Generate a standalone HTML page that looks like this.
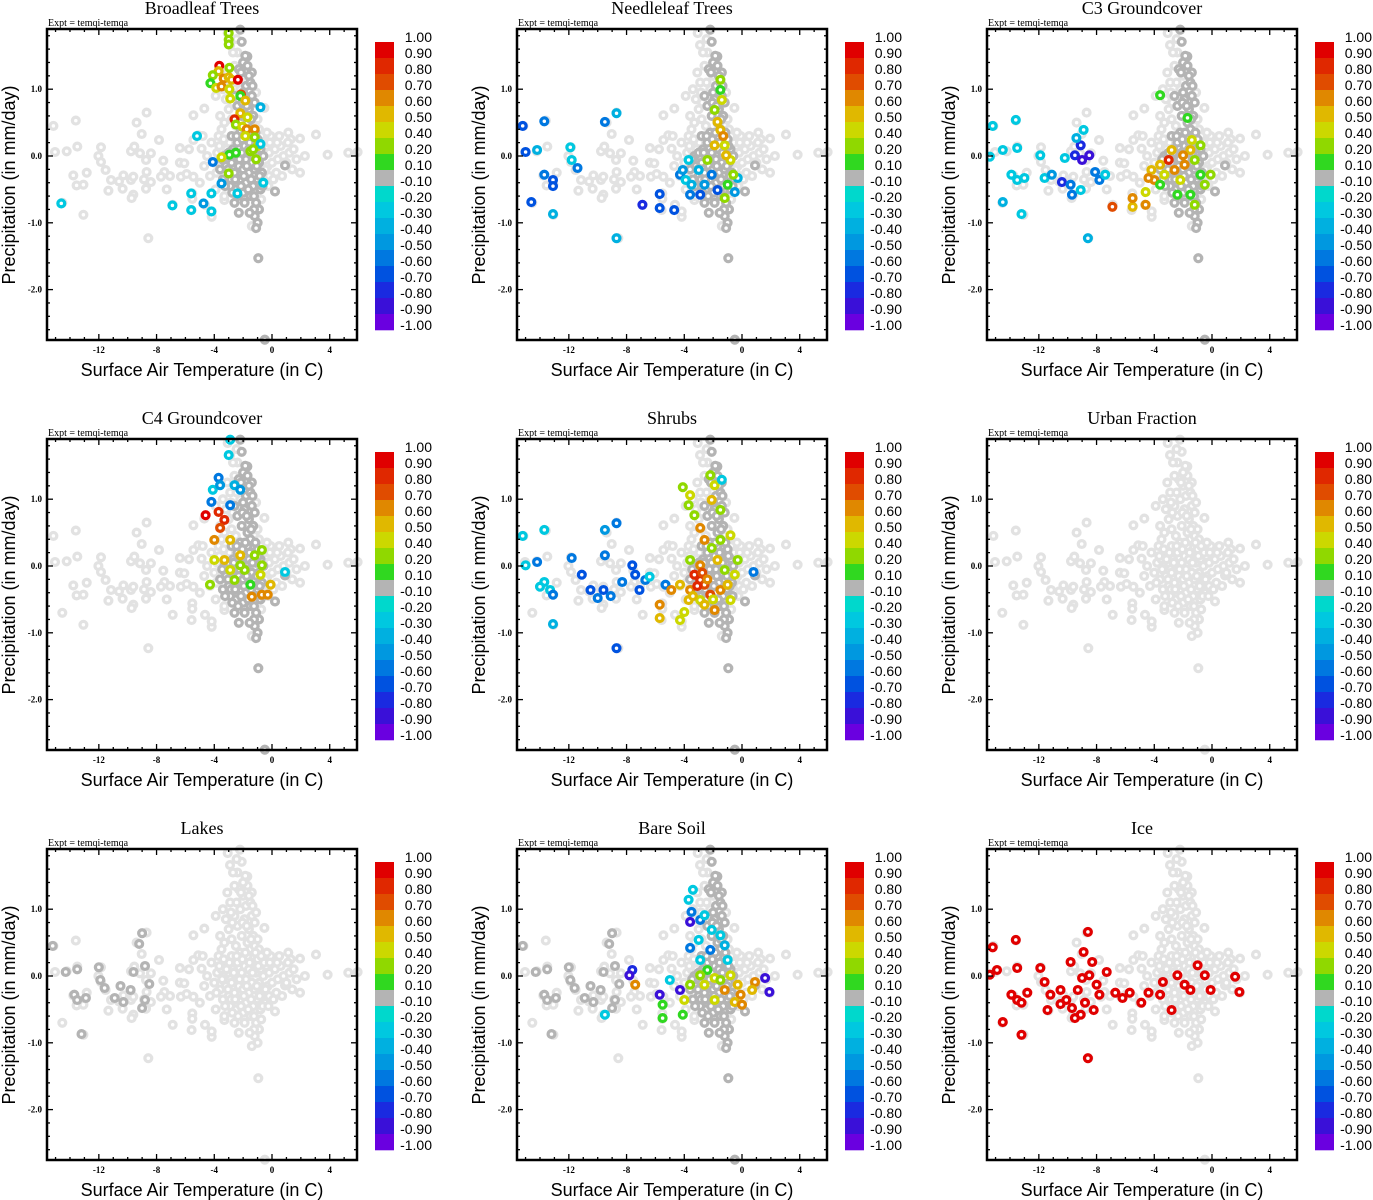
<!DOCTYPE html>
<html><head><meta charset="utf-8">
<style>
html,body{margin:0;padding:0;background:#fff;}
svg{display:block;}
.ttl{font-family:"Liberation Serif",serif;font-size:18px;}
.expt{font-family:"Liberation Serif",serif;font-size:10px;}
.axl{font-family:"Liberation Sans",sans-serif;font-size:18px;}
.tk{font-family:"Liberation Serif",serif;font-size:9px;font-weight:bold;}
.cbl{font-family:"Liberation Sans",sans-serif;font-size:14px;}
</style></head>
<body>
<svg id="fig" width="1373" height="1200" viewBox="0 0 1373 1200" xmlns="http://www.w3.org/2000/svg"></svg>
<script>
// ---- shared data ----
const panelTitles = ["Broadleaf Trees","Needleleaf Trees","C3 Groundcover","C4 Groundcover","Shrubs","Urban Fraction","Lakes","Bare Soil","Ice"];
const xTicks = [-12,-8,-4,0,4];
const yTicks = [1.0,0.0,-1.0,-2.0];
const yTickLabels = ["1.0","0.0","-1.0","-2.0"];
const cbBounds = [1.0,0.9,0.8,0.7,0.6,0.5,0.4,0.2,0.1,-0.1,-0.2,-0.3,-0.4,-0.5,-0.6,-0.7,-0.8,-0.9,-1.0];
const cbLabels = ["1.00","0.90","0.80","0.70","0.60","0.50","0.40","0.20","0.10","-0.10","-0.20","-0.30","-0.40","-0.50","-0.60","-0.70","-0.80","-0.90","-1.00"];
const cbColors = ["#e00000","#e02800","#e04c00","#e08800","#e0b800","#ccd800","#90d800","#30d820","#b4b4b4","#00d8cc","#00c8e0","#00b0e0","#0098e0","#0078e0","#0052e0","#1a2ae0","#3a10d8","#6a00e0"];

// base cloud (x: temperature, y: precipitation)
const baseCloud = [[-15.15,0.45],[-13.6,0.53],[-15.04,0.06],[-14.23,0.07],[-13.49,0.14],[-13.77,-0.29],[-13.54,-0.44],[-13.07,-0.43],[-12.84,-0.25],[-14.53,-0.7],[-13.07,-0.88],[-11.85,0.13],[-12.03,0.0],[-11.85,-0.09],[-11.53,-0.21],[-11.34,-0.52],[-11.16,-0.36],[-10.6,-0.38],[-10.3,-0.29],[-10.35,-0.49],[-9.77,-0.36],[-9.61,-0.31],[-9.15,0.04],[-9.38,0.5],[-9.03,0.33],[-8.69,0.65],[-9.77,0.07],[-9.54,0.14],[-8.39,0.04],[-8.73,-0.06],[-8.69,-0.24],[-8.87,-0.35],[-8.39,-0.39],[-8.73,-0.49],[-9.61,-0.58],[-9.73,-0.63],[-7.83,0.24],[-7.53,-0.07],[-7.46,-0.24],[-7.69,-0.31],[-7.07,-0.3],[-7.3,-0.5],[-6.88,-0.73],[-8.57,-1.23],[-6.38,0.12],[-5.75,0.1],[-5.45,0.24],[-5.11,0.31],[-5.45,0.61],[-4.69,0.71],[-4.88,0.11],[-6.38,-0.1],[-6.08,-0.11],[-6.31,-0.31],[-5.92,-0.27],[-5.45,-0.31],[-5.52,-0.56],[-5.52,-0.64],[-5.57,-0.81],[-4.18,-0.91],[-4.18,-0.83],[-4.64,-0.73],[-3.3,-0.66],[-0.95,-1.53],[3.85,0.02],[3.05,0.32],[5.29,0.05],[5.93,0.06],[1.94,-0.25],[1.13,0.35],[1.94,0.26],[2.28,0.0],[0.21,-0.53],[0.9,-0.14],[-0.53,0.72],[-1.71,1.49],[-2.22,1.89],[-2.91,1.66],[-3.07,1.84],[-2.1,1.71],[-0.5,-2.75],
[-4.0,-0.1],[-3.8,0.05],[-3.6,-0.2],[-3.5,0.1],[-3.4,-0.35],[-3.3,0.0],[-3.2,-0.15],[-3.1,0.2],[-3.0,-0.3],[-3.0,0.05],[-2.9,-0.45],[-2.8,-0.1],[-2.8,0.3],[-2.7,0.1],[-2.6,-0.25],[-2.5,0.0],[-2.5,-0.5],[-2.4,0.2],[-2.3,-0.15],[-2.2,-0.35],[-2.2,0.35],[-2.1,0.05],[-2.0,-0.2],[-2.0,-0.55],[-1.9,0.15],[-1.8,-0.05],[-1.8,-0.4],[-1.7,0.3],[-1.6,-0.25],[-1.6,0.1],[-1.5,-0.6],[-1.5,0.4],[-1.4,-0.1],[-1.3,0.2],[-1.3,-0.45],[-1.2,-0.2],[-1.1,0.05],[-1.1,-0.7],[-1.0,-0.35],[-1.0,0.25],[-0.9,-0.1],[-0.8,-0.5],[-0.8,0.1],[-0.7,-0.25],[-0.6,0.0],[-0.5,-0.4],[-0.4,0.15],[-0.3,-0.15],[-0.2,0.05],[0.0,-0.1],[0.2,0.1],[0.4,-0.05],[0.6,0.15],[0.8,0.0],[1.0,-0.1],[1.2,0.05],[1.5,0.1],[-4.3,-0.3],[-4.5,0.0],[-4.2,0.2],[-3.9,-0.5],[-3.7,0.3],[-3.3,-0.6],[-2.6,-0.7],[-2.3,-0.85],[-1.2,-0.9],[-0.9,-0.8],[-1.0,-1.0],[-1.4,-1.05],[-0.2,-0.3],[0.3,-0.25],[0.5,0.3],[-0.1,0.3],[1.3,0.25],[1.7,-0.05],[-4.7,-0.15],[-5.0,-0.4],[-4.8,0.3],
[-3.3,0.5],[-3.0,0.7],[-2.8,0.55],[-2.6,0.9],[-2.5,0.45],[-2.4,0.75],[-2.2,1.0],[-2.1,0.6],[-2.0,1.2],[-1.9,0.85],[-1.8,1.05],[-1.7,0.5],[-1.6,0.7],[-1.5,1.1],[-1.4,0.9],[-1.3,0.6],[-1.2,0.8],[-2.3,1.3],[-2.6,1.35],[-3.1,1.25],[-3.4,1.0],[-2.9,1.1],[-1.7,1.35],[-1.4,1.25],[-1.2,0.45],[-2.0,1.4],[-2.4,1.55],[-3.6,0.6],[-3.9,0.9],[-1.0,0.55],[-0.9,0.4],
[-3.85,-0.25],[-3.65,0.15],[-3.45,-0.05],[-3.25,-0.45],[-3.15,0.1],[-3.05,-0.2],[-2.95,0.2],[-2.85,-0.35],[-2.75,-0.55],[-2.65,0.05],[-2.55,-0.35],[-2.45,0.3],[-2.35,-0.6],[-2.25,-0.05],[-2.15,-0.45],[-2.05,0.25],[-1.95,-0.3],[-1.85,0.35],[-1.75,-0.15],[-1.65,-0.5],[-1.55,0.2],[-1.45,-0.35],[-1.35,0.05],[-1.25,-0.6],[-1.15,0.35],[-1.05,-0.15],[-0.95,0.15],[-0.85,-0.3],[-0.75,0.3],[-0.65,-0.45],[-0.55,0.2],[-0.45,-0.2],[-0.35,0.35],[-0.25,-0.45],[-0.15,0.2],[0.1,-0.35],[0.35,0.2],[0.7,-0.3],[1.1,0.2],[1.4,-0.2],[-3.5,0.4],[-3.2,0.85],[-2.75,0.8],[-2.45,1.1],[-2.15,1.25],[-1.85,1.5],[-1.6,1.2],[-1.35,1.05],[-1.1,0.95],[-2.7,1.55],[-2.45,1.75],[-2.05,0.8],[-1.75,0.75],[-1.45,0.55],[-2.85,0.95],[-3.35,0.25],[-1.25,-0.8],[-1.55,-0.85],[-0.75,-0.65],[-1.9,-0.7]];

// darker grey core (|r| < 0.1)
const coreGrey = [[-3.6,-0.2],[-3.4,-0.35],[-3.3,0.0],[-3.2,-0.15],[-3.0,-0.3],[-3.0,0.05],[-2.9,-0.45],[-2.8,-0.1],[-2.8,0.3],[-2.7,0.1],[-2.6,-0.25],[-2.5,0.0],[-2.5,-0.5],[-2.4,0.2],[-2.3,-0.15],[-2.2,-0.35],[-2.2,0.35],[-2.1,0.05],[-2.0,-0.2],[-2.0,-0.55],[-1.9,0.15],[-1.8,-0.05],[-1.8,-0.4],[-1.7,0.3],[-1.6,-0.25],[-1.6,0.1],[-1.5,-0.6],[-1.5,0.4],[-1.4,-0.1],[-1.3,0.2],[-1.3,-0.45],[-1.2,-0.2],[-1.1,0.05],[-1.1,-0.7],[-1.0,-0.35],[-1.0,0.25],[-0.9,-0.1],[-0.8,-0.5],[-0.8,0.1],[-0.7,-0.25],[-0.6,0.0],[-1.2,-0.9],[-0.9,-0.8],[-1.0,-1.0],[-1.1,-1.08],[-0.95,-1.53],[-2.6,-0.7],[-2.3,-0.85],[-2.1,0.6],[-2.0,0.95],[-1.9,0.85],[-1.8,1.05],[-1.7,0.5],[-1.6,0.7],[-1.5,1.1],[-1.4,0.9],[-1.3,0.6],[-1.2,0.8],[-2.3,1.3],[-2.0,1.4],[-1.7,1.35],[-1.4,1.25],[-2.4,0.75],[-2.6,0.9],[-2.2,1.89],[-2.1,1.71],[-1.71,1.49],[-0.5,-2.75],[0.21,-0.53],[0.9,-0.14],
[-3.45,-0.05],[-3.25,-0.45],[-3.05,-0.2],[-2.85,-0.35],[-2.75,-0.55],[-2.65,0.05],[-2.55,-0.35],[-2.45,0.3],[-2.35,-0.6],[-2.25,-0.05],[-2.15,-0.45],[-2.05,0.25],[-1.95,-0.3],[-1.85,0.35],[-1.75,-0.15],[-1.65,-0.5],[-1.55,0.2],[-1.45,-0.35],[-1.35,0.05],[-1.25,-0.6],[-1.15,0.35],[-1.05,-0.15],[-0.95,0.15],[-0.85,-0.3],[-0.65,-0.45],[-2.15,1.25],[-1.85,1.5],[-1.6,1.2],[-1.35,1.05],[-2.05,0.8],[-1.75,0.75],[-1.45,0.55],[-1.25,-0.8],[-1.55,-0.85],[-1.9,-0.7]];

// darker grey wing (Lakes / Bare Soil)
const wingGrey = [[-15.2,0.45],[-14.3,0.06],[-13.5,0.1],[-13.7,-0.28],[-13.5,-0.36],[-12.9,-0.33],[-13.2,-0.87],[-12.0,0.13],[-11.9,-0.06],[-11.6,-0.18],[-10.9,-0.33],[-10.3,-0.39],[-9.8,-0.21],[-9.0,0.64],[-9.2,0.48],[-9.6,0.06],[-8.8,0.15],[-8.5,-0.12],[-8.8,-0.36],[-9.0,-0.48],[-10.5,-0.15]];

// coloured points per panel [temperature, precipitation, correlation]
const broadleafPts = [[-3.0,1.84,0.2],[-3.0,1.74,0.2],[-3.0,1.67,0.2],[-3.65,1.35,0.9],[-3.7,1.27,0.5],[-4.1,1.21,0.2],[-4.27,1.09,0.1],[-3.87,1.02,0.4],[-3.5,1.04,0.6],[-3.35,1.16,0.6],[-3.0,1.18,0.5],[-2.8,1.14,0.5],[-2.95,1.32,0.2],[-2.36,1.14,0.9],[-2.95,1.0,0.4],[-2.9,0.86,0.4],[-2.15,0.92,0.7],[-2.2,0.9,0.1],[-1.85,0.83,0.5],[-0.8,0.73,-0.4],[-2.2,0.64,0.5],[-1.7,0.58,0.4],[-2.6,0.55,0.8],[-2.5,0.47,0.2],[-2.05,0.44,0.4],[-1.2,0.4,0.6],[-1.75,0.4,0.6],[-1.85,0.3,0.4],[-1.2,0.28,0.2],[-5.2,0.3,-0.3],[-1.0,0.15,0.4],[-1.5,0.07,0.2],[-2.5,0.05,0.1],[-2.95,0.02,0.1],[-3.5,-0.02,0.4],[-3.0,-0.26,0.2],[-5.6,-0.56,-0.3],[-6.9,-0.74,-0.3],[-5.6,-0.81,-0.3],[-4.75,-0.71,-0.5],[-4.2,-0.83,-0.3],[-14.6,-0.71,-0.3],[-4.2,-0.56,-0.3],[-2.4,-0.56,-0.3],[-3.5,-0.41,-0.5],[-0.6,-0.4,-0.3],[-4.1,-0.09,-0.6],[-0.8,0.18,-0.3],[-1.3,0.1,0.2],[-1.1,-0.05,0.2]];
const needleleafPts = [[-15.2,0.45,-0.7],[-15.0,0.06,-0.7],[-13.7,0.52,-0.6],[-14.2,0.09,-0.4],[-13.1,-0.36,-0.7],[-13.1,-0.45,-0.7],[-13.7,-0.28,-0.6],[-14.6,-0.69,-0.7],[-13.1,-0.87,-0.4],[-11.9,0.13,-0.3],[-11.8,-0.06,-0.3],[-11.4,-0.18,-0.6],[-9.5,0.51,-0.6],[-8.7,0.64,-0.4],[-8.7,-1.23,-0.4],[-6.9,-0.73,-0.8],[-5.7,-0.57,-0.7],[-5.7,-0.78,-0.7],[-4.7,-0.81,-0.7],[-4.3,-0.28,-0.6],[-3.9,-0.36,-0.3],[-3.6,-0.58,-0.6],[-2.9,-0.58,-0.7],[-3.5,-0.43,-0.4],[-2.6,-0.43,-0.5],[-3.0,-0.21,-0.4],[-2.1,-0.28,-0.6],[-1.7,-0.51,-0.7],[-0.5,-0.54,-0.5],[-0.3,-0.33,-0.4],[-1.0,-0.43,0.1],[-1.2,-0.63,0.2],[-1.5,1.14,0.2],[-1.4,0.84,0.4],[-1.5,0.39,0.5],[-1.9,0.16,0.5],[-1.2,0.16,0.4],[-0.8,-0.06,0.4],[-0.6,-0.28,0.2],[-1.9,0.69,0.2],[-1.7,0.51,0.5],[-1.5,0.99,0.1],[-2.4,-0.06,0.2],[-1.1,0.01,0.5],[-4.1,-0.21,-0.5],[-3.7,-0.06,-0.3],[-1.3,0.3,0.6]];
const c3Pts = [[-15.2,0.45,-0.3],[-15.4,-0.01,-0.3],[-14.5,0.09,-0.3],[-13.6,0.54,-0.3],[-13.5,0.12,-0.3],[-13.9,-0.28,-0.3],[-13.5,-0.36,-0.3],[-13.0,-0.33,-0.3],[-14.5,-0.69,-0.4],[-13.2,-0.87,-0.3],[-11.9,0.01,-0.3],[-11.6,-0.33,-0.3],[-11.1,-0.28,-0.5],[-10.4,-0.39,-0.8],[-9.8,-0.43,-0.6],[-10.2,-0.03,-0.3],[-9.5,0.01,-0.8],[-9.0,-0.06,-0.9],[-9.1,0.16,-0.8],[-8.5,0.01,-0.9],[-8.1,-0.24,-0.6],[-7.8,-0.36,-0.6],[-9.7,-0.58,-0.6],[-9.1,-0.51,-0.3],[-8.6,-1.23,-0.4],[-7.4,-0.28,-0.3],[-6.9,-0.76,0.7],[-8.9,0.39,-0.3],[-9.4,0.27,-0.4],[-5.5,-0.76,0.5],[-5.5,-0.63,0.6],[-4.6,-0.73,0.6],[-4.6,-0.54,0.4],[-4.0,-0.36,0.6],[-3.6,-0.13,0.5],[-3.0,-0.06,0.8],[-2.6,-0.21,0.6],[-2.2,-0.36,0.4],[-1.9,-0.13,0.6],[-1.5,0.09,0.5],[-1.2,-0.06,0.2],[-0.8,-0.28,0.1],[-0.5,-0.43,0.2],[-3.6,-0.43,0.1],[-2.4,-0.58,0.1],[-1.5,-0.58,0.1],[-1.2,-0.73,0.2],[-2.0,0.01,0.6],[-2.8,0.09,0.5],[-3.3,-0.28,0.4],[-3.6,0.91,0.1],[-1.7,0.57,0.1],[-1.4,0.24,0.4],[-0.8,0.16,0.2],[-0.1,-0.28,0.2],[-4.2,-0.21,0.5],[-4.4,-0.33,0.6]];
const c4Pts = [[-2.9,1.89,-0.3],[-3.0,1.66,-0.3],[-3.7,1.32,-0.6],[-4.1,1.14,-0.3],[-3.6,1.21,-0.5],[-2.6,1.21,-0.4],[-4.2,0.96,-0.6],[-4.6,0.76,0.9],[-3.7,0.81,0.8],[-3.3,0.69,0.8],[-2.9,0.91,-0.6],[-2.2,1.14,-0.5],[-3.6,0.57,0.7],[-4.0,0.39,0.6],[-2.9,0.39,0.5],[-2.2,0.16,0.5],[-3.3,0.09,0.5],[-2.9,-0.06,0.4],[-1.9,-0.06,0.2],[-1.2,0.16,0.2],[-0.7,0.24,0.2],[-2.6,-0.21,0.2],[-1.5,-0.28,0.1],[-0.8,-0.13,0.4],[-0.1,-0.28,0.5],[-0.7,-0.43,0.6],[-0.3,-0.43,0.6],[0.9,-0.09,-0.3],[-1.4,-0.46,0.6],[-2.2,0.01,0.2],[-0.7,0.01,0.2],[-4.0,0.09,0.4],[-4.3,-0.28,0.2]];
const shrubPts = [[-15.2,0.45,-0.3],[-15.0,0.01,-0.3],[-13.7,0.54,-0.3],[-14.2,0.06,-0.6],[-13.7,-0.24,-0.3],[-13.3,-0.36,-0.3],[-14.0,-0.31,-0.3],[-13.1,-0.43,-0.6],[-13.1,-0.87,-0.4],[-11.8,0.12,-0.6],[-11.1,-0.13,-0.7],[-10.5,-0.36,-0.7],[-10.0,-0.48,-0.6],[-9.6,-0.36,-0.7],[-9.1,-0.45,-0.6],[-9.5,0.16,-0.6],[-8.7,0.64,-0.6],[-9.5,0.54,-0.5],[-8.7,-1.23,-0.7],[-7.6,0.01,-0.7],[-7.4,-0.13,-0.7],[-6.7,-0.21,-0.6],[-8.3,-0.24,-0.6],[-7.1,-0.36,-0.7],[-6.4,-0.16,-0.3],[-5.7,-0.58,0.6],[-5.7,-0.78,0.5],[-5.3,-0.28,-0.6],[-4.9,-0.36,0.6],[-4.3,-0.81,0.4],[-4.0,-0.69,0.4],[-2.9,-0.51,0.4],[-4.1,1.18,0.2],[-3.6,1.06,0.4],[-3.7,0.91,0.2],[-3.3,0.76,0.2],[-2.9,0.57,0.6],[-2.2,1.36,0.2],[-2.1,0.99,0.5],[-1.9,1.21,0.4],[-1.5,0.84,0.2],[-2.6,0.39,0.6],[-2.1,0.27,0.2],[-1.5,0.39,0.2],[-0.8,0.46,0.4],[-2.9,0.01,0.6],[-3.3,-0.13,0.8],[-2.9,-0.21,0.8],[-2.6,-0.28,0.7],[-3.6,-0.36,0.6],[-4.3,-0.28,0.5],[-2.2,-0.43,0.7],[-1.5,-0.36,0.6],[-1.0,-0.28,0.5],[-0.5,-0.13,0.4],[-1.2,-0.06,0.2],[-0.3,0.09,0.2],[-3.7,-0.51,0.5],[-0.8,-0.51,0.4],[-2.6,-0.58,0.5],[-1.9,-0.66,0.6],[0.8,-0.09,-0.6],[-1.4,1.29,-0.3],[-3.6,0.09,0.2],[-1.7,0.09,0.5],[-3.1,-0.3,0.8],[-2.75,-0.1,0.7],[-2.4,-0.2,0.6],[-3.4,-0.45,0.5],[-2.0,-0.5,0.4]];
const urbanPts = [];
const lakesPts = [];
const barePts = [[-3.4,1.29,-0.3],[-3.7,1.14,-0.3],[-3.5,0.96,-0.6],[-3.6,0.81,-0.9],[-2.9,0.84,-0.6],[-2.6,0.91,-0.3],[-3.0,0.54,-0.3],[-3.6,0.42,-0.6],[-2.1,0.69,-0.3],[-1.5,0.61,-0.3],[-2.2,0.39,-0.6],[-1.2,0.46,-0.4],[-2.9,0.24,-0.3],[-2.4,0.09,0.1],[-1.9,-0.03,0.4],[-2.6,-0.13,0.4],[-1.5,-0.06,0.2],[-0.8,0.01,0.4],[-0.3,-0.13,0.5],[-1.2,-0.21,0.6],[-0.1,-0.28,0.6],[-0.5,-0.39,0.5],[0.0,-0.43,0.6],[0.9,-0.09,0.6],[0.7,-0.21,0.5],[1.6,-0.03,-0.9],[1.9,-0.24,-0.9],[-4.3,-0.21,-0.9],[-5.7,-0.28,-0.9],[-5.5,-0.43,0.1],[-3.6,-0.13,0.2],[-4.0,-0.36,0.4],[-5.0,-0.06,-0.3],[-7.6,0.09,-0.8],[-7.8,0.01,-0.9],[-7.4,-0.13,0.6],[-9.5,-0.58,-0.3],[-4.1,-0.58,0.1],[-5.5,-0.63,0.1],[-2.9,0.01,0.2],[-1.9,-0.36,0.4],[-1.0,0.24,-0.3]];
const icePts = [[-15.2,0.43,0.9],[-15.4,0.02,0.9],[-14.9,0.09,0.9],[-14.5,-0.69,0.9],[-13.6,0.54,0.9],[-13.5,0.12,0.9],[-13.9,-0.28,0.9],[-13.5,-0.36,0.9],[-13.2,-0.4,0.9],[-12.8,-0.25,0.9],[-13.2,-0.88,0.9],[-11.9,0.12,0.9],[-11.6,-0.09,0.9],[-11.2,-0.28,0.9],[-11.4,-0.51,0.9],[-10.5,-0.21,0.9],[-10.1,-0.36,0.9],[-9.7,-0.48,0.9],[-9.3,-0.21,0.9],[-9.0,-0.03,0.9],[-8.8,-0.4,0.9],[-9.1,-0.58,0.9],[-8.6,0.66,0.9],[-8.9,0.36,0.9],[-8.3,0.21,0.9],[-8.5,0.01,0.9],[-8.0,-0.13,0.9],[-7.8,-0.28,0.9],[-8.2,-0.51,0.9],[-8.6,-1.23,0.9],[-9.5,-0.63,0.9],[-10.5,-0.42,0.9],[-9.8,0.21,0.9],[-7.3,0.06,0.9],[-6.7,-0.25,0.9],[-6.2,-0.33,0.9],[-5.7,-0.25,0.9],[-4.9,-0.4,0.9],[-4.4,-0.25,0.9],[-3.6,-0.28,0.9],[-3.4,-0.09,0.9],[-2.8,-0.51,0.9],[-2.4,0.01,0.9],[-1.9,-0.13,0.9],[-1.5,-0.21,0.9],[-1.0,0.16,0.9],[-0.5,0.01,0.9],[-0.1,-0.21,0.9],[1.6,-0.01,0.9],[1.9,-0.24,0.9]];

const panelPts = [broadleafPts,needleleafPts,c3Pts,c4Pts,shrubPts,urbanPts,lakesPts,barePts,icePts];
const panelCore = [true,true,true,true,true,false,false,true,false];
const panelWing = [false,false,false,false,false,false,true,true,false];

const NS = "http://www.w3.org/2000/svg";
const svg = document.getElementById("fig");
function mk(tag, attrs, parent, txt){
  const e = document.createElementNS(NS, tag);
  for (const k in attrs) e.setAttribute(k, attrs[k]);
  if (txt !== undefined) e.textContent = txt;
  parent.appendChild(e);
  return e;
}
const L=47, R=357, T=29, B=340, X0=272, PXU=14.43, Y0=156, PYU=66.8;
const xScale = v => X0 + v*PXU;
const yScale = v => Y0 - v*PYU;
function colorFor(v){
  for (let i=0;i<cbColors.length;i++){
    const hi=cbBounds[i], lo=cbBounds[i+1];
    if (v<=hi && v>=lo) return cbColors[i];
  }
  return v>1?cbColors[0]:cbColors[cbColors.length-1];
}

panelTitles.forEach((title, p) => {
  const ox = (p%3)*470, oy = Math.floor(p/3)*410;
  const g = mk("g", {transform:`translate(${ox},${oy})`}, svg);
  
  

  const t = mk("text", {x:202, y:14, "text-anchor":"middle", class:"ttl"}, g, title);
  
  
  const ex = mk("text", {x:48, y:26, class:"expt"}, g, "Expt = temqi-temqa");
  
  

  const cp = mk("clipPath", {id:"clip"+p}, g);
  mk("rect", {x:L, y:T-6, width:R-L+6, height:B-T+12}, cp);
  const pts = mk("g", {"clip-path":`url(#clip${p})`}, g);
  
  

  const dot = (x,y,col) => {
    const c = mk("circle", {cx:xScale(x).toFixed(1), cy:yScale(y).toFixed(1), r:3.4, fill:"#fff", stroke:col, "stroke-width":3.3}, pts);
    
    
  };
  baseCloud.forEach(d => dot(d[0], d[1], "#e2e2e2"));
  if (panelWing[p]) wingGrey.forEach(d => dot(d[0], d[1], "#b4b4b4"));
  if (panelCore[p]) coreGrey.forEach(d => dot(d[0], d[1], "#b4b4b4"));
  panelPts[p].forEach(d => dot(d[0], d[1], colorFor(d[2])));

  const tk = mk("g", {stroke:"#000", "stroke-width":1.3}, g);
  for (let v=-15; v<=5; v++){
    const x = xScale(v); const len = (v%4===0)?6:3;
    mk("line", {x1:x, y1:B, x2:x, y2:B-len}, tk);
    mk("line", {x1:x, y1:T, x2:x, y2:T+len}, tk);
  }
  for (let i=-13; i<=9; i++){
    const v=i*0.2; const y=yScale(v); const len=(i%5===0)?6:3;
    mk("line", {x1:L, y1:y, x2:L+len, y2:y}, tk);
    mk("line", {x1:R, y1:y, x2:R-len, y2:y}, tk);
  }
  const fr = mk("rect", {x:L, y:T, width:R-L, height:B-T, fill:"none", stroke:"#000", "stroke-width":2.5}, g);
  
  

  xTicks.forEach(v => {
    const e = mk("text", {x:xScale(v), y:353, "text-anchor":"middle", class:"tk"}, g, String(v));
    
    
  });
  yTicks.forEach((v,i) => {
    const e = mk("text", {x:42, y:yScale(v)+3, "text-anchor":"end", class:"tk"}, g, yTickLabels[i]);
    
    
  });
  const xl = mk("text", {x:202, y:376, "text-anchor":"middle", class:"axl"}, g, "Surface Air Temperature (in C)");
  
  
  const yl = mk("text", {x:0, y:0, transform:"translate(15,185) rotate(-90)", "text-anchor":"middle", class:"axl"}, g, "Precipitation (in mm/day)");
  
  

  const cb = mk("g", {}, g);
  
  
  cbColors.forEach((c,i) => {
    const r = mk("rect", {x:375, y:42+i*16, width:19, height:16.3, fill:c}, cb);
    
    
  });
  cbLabels.forEach((s,i) => {
    const e = mk("text", {x:432, y:42+i*16, "text-anchor":"end", class:"cbl"}, cb, s);
    
    
  });
});
</script>
</body></html>
